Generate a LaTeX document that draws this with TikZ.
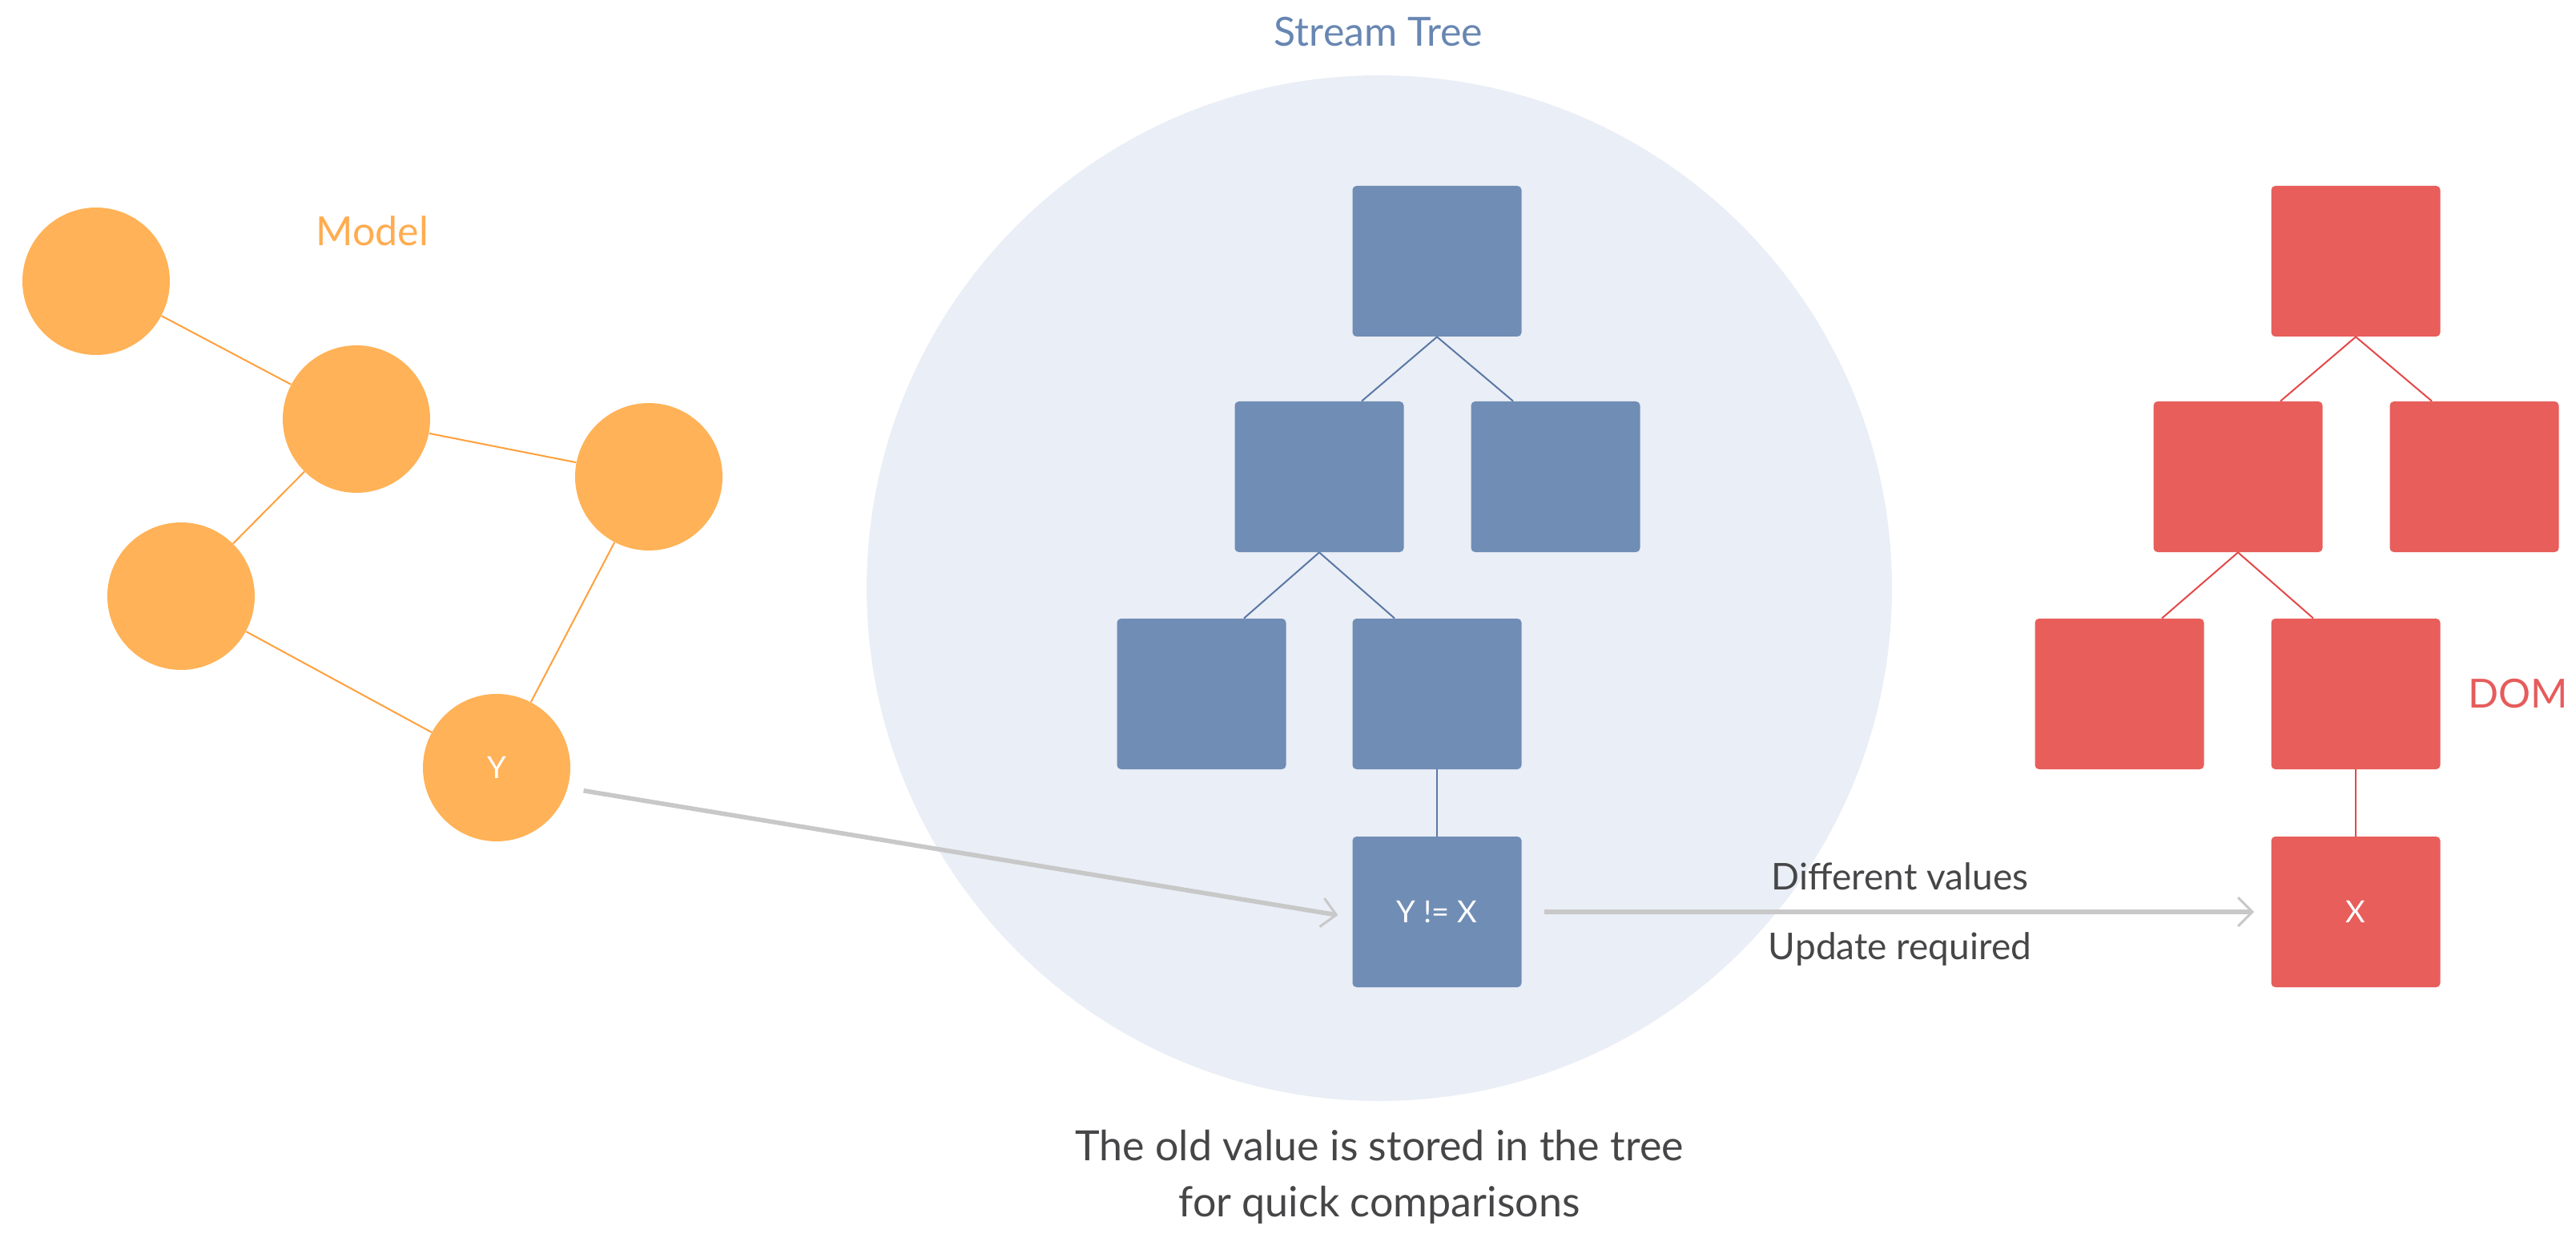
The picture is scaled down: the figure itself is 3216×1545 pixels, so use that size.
\documentclass[tikz,border=0pt]{standalone}
\usepackage{fontspec}
\setmainfont{Lato}
\usetikzlibrary{arrows.meta}
\definecolor{orng}{RGB}{255,178,87}
\definecolor{orngline}{RGB}{255,160,60}
\definecolor{orngtxt}{RGB}{255,172,80}
\definecolor{bluebox}{RGB}{112,141,181}
\definecolor{blueline}{RGB}{90,120,165}
\definecolor{bluetxt}{RGB}{104,134,178}
\definecolor{bgcirc}{RGB}{234,238,246}
\definecolor{redbox}{RGB}{231,94,91}
\definecolor{redline}{RGB}{228,72,72}
\definecolor{redtxt}{RGB}{230,92,92}
\definecolor{arrgray}{RGB}{200,200,200}
\definecolor{txtdark}{RGB}{70,70,72}
\begin{document}
\begin{tikzpicture}[x=0.5pt,y=-0.5pt,
  mcirc/.style={circle,fill=orng,minimum size=92pt,inner sep=0pt,text=white,font=\fontsize{19}{22}\selectfont},
  sbox/.style={rectangle,rounded corners=2.5pt,fill=bluebox,minimum width=105.5pt,minimum height=94pt,inner sep=0pt,text=white,font=\fontsize{19}{22}\selectfont},
  dbox/.style={sbox,fill=redbox},
  oline/.style={draw=orngline,line width=1pt},
  bline/.style={draw=blueline,line width=1pt},
  rline/.style={draw=redline,line width=1pt},
  garrow/.style={draw=arrgray,line width=2.8pt,-{Straight Barb[length=9pt,width=18pt,line width=1.5pt]}},
  title/.style={anchor=base,inner sep=0pt,font=\fontsize{25}{30}\selectfont},
  note/.style={anchor=base,inner sep=0pt,text=txtdark,font=\fontsize{23}{28}\selectfont},
  bignote/.style={note,font=\fontsize{26}{31}\selectfont}
]
\useasboundingbox (0,0) rectangle (3216,1545);
% background circle of the stream tree
\node[circle,fill=bgcirc,minimum size=640pt,inner sep=0pt] (streambg) at (1722,734) {};
% model graph
\node[mcirc] (m1) at (120,351) {};
\node[mcirc] (m2) at (445,523) {};
\node[mcirc] (m3) at (810,595) {};
\node[mcirc] (m4) at (226,744) {};
\node[mcirc] (m5) at (620,958) {Y};
\draw[oline] (m1) -- (m2);
\draw[oline] (m2) -- (m3);
\draw[oline] (m2) -- (m4);
\draw[oline] (m4) -- (m5);
\draw[oline] (m3) -- (m5);
\node[title,text=orngtxt] (lmodel) at (465,307) {Model};
% stream tree
\node[sbox] (s1) at (1794,326) {};
\node[sbox] (s2) at (1647,595) {};
\node[sbox] (s3) at (1942,595) {};
\node[sbox] (s4) at (1500,866) {};
\node[sbox] (s5) at (1794,866) {};
\node[sbox] (s6) at (1794,1138) {Y != X};
\draw[bline] (s1.south) -- ([xshift=26.5pt]s2.north);
\draw[bline] (s1.south) -- ([xshift=-26.5pt]s3.north);
\draw[bline] (s2.south) -- ([xshift=26.5pt]s4.north);
\draw[bline] (s2.south) -- ([xshift=-26.5pt]s5.north);
\draw[bline] (s5.south) -- (s6.north);
\node[title,text=bluetxt] (lstream) at (1721,58) {Stream Tree};
% DOM tree
\node[dbox] (d1) at (2941,326) {};
\node[dbox] (d2) at (2794,595) {};
\node[dbox] (d3) at (3089,595) {};
\node[dbox] (d4) at (2646,866) {};
\node[dbox] (d5) at (2941,866) {};
\node[dbox] (d6) at (2941,1138) {X};
\draw[rline] (d1.south) -- ([xshift=26.5pt]d2.north);
\draw[rline] (d1.south) -- ([xshift=-26.5pt]d3.north);
\draw[rline] (d2.south) -- ([xshift=26.5pt]d4.north);
\draw[rline] (d2.south) -- ([xshift=-26.5pt]d5.north);
\draw[rline] (d5.south) -- (d6.north);
\node[title,text=redtxt] (ldom) at (3144,883) {DOM};
% arrows
\draw[garrow,shorten <=10pt,shorten >=9pt] (m5.-16) -- ([yshift=-3.5pt]s6.west);
\draw[garrow,shorten <=14pt,shorten >=10.5pt] (s6.east) -- (d6.west);
\node[note] (ldiff) at (2372,1110) {Different values};
\node[note] (lupd) at (2372,1197) {Update required};
\node[bignote] (lold1) at (1722,1448) {The old value is stored in the tree};
\node[bignote] (lold2) at (1722,1518) {for quick comparisons};
\end{tikzpicture}
\end{document}
